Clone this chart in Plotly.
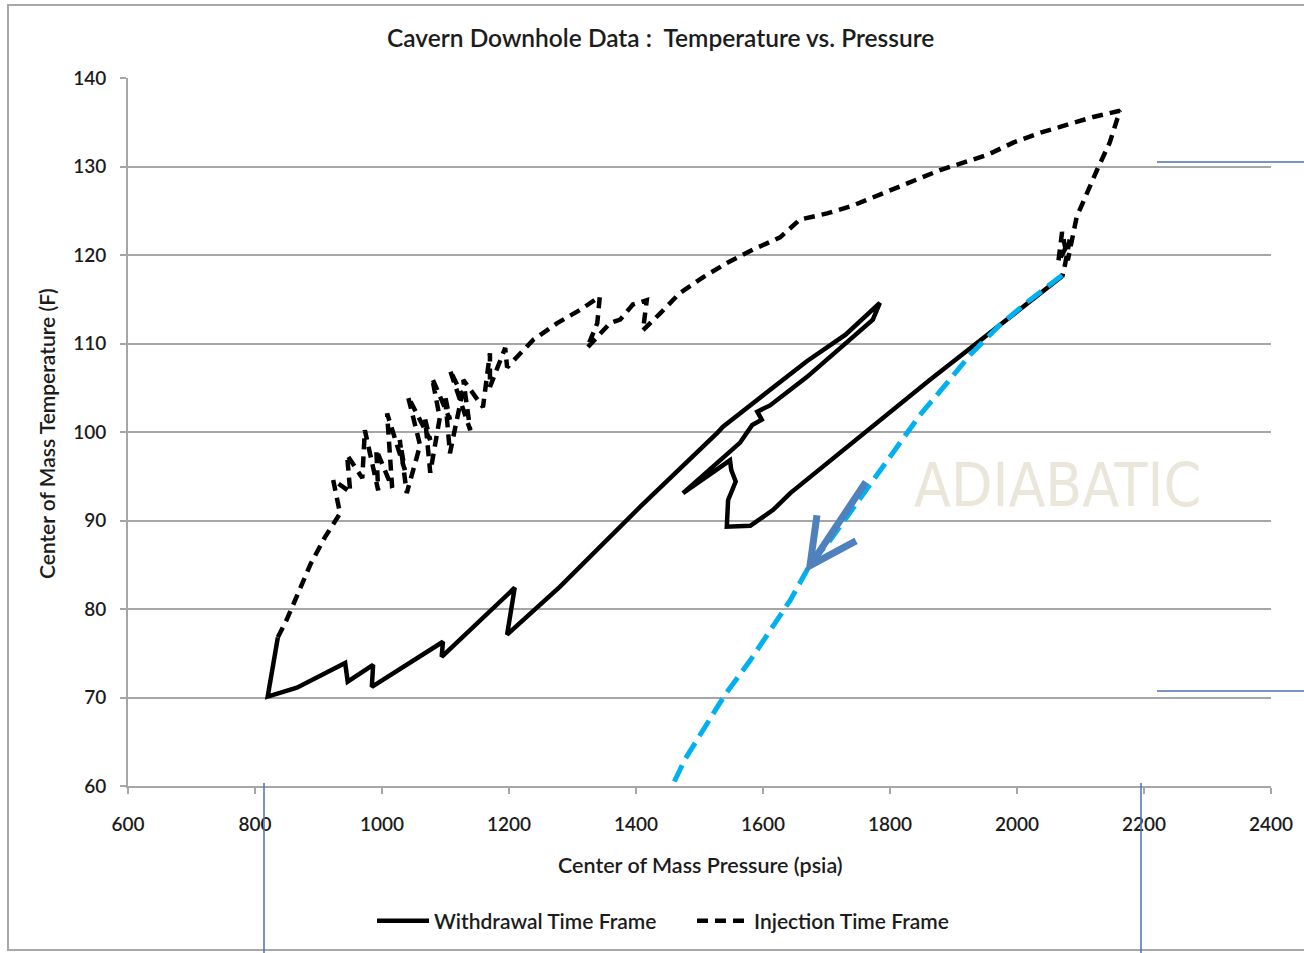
import plotly.graph_objects as go

# Withdrawal period: center-of-mass pressure (psia) vs temperature (F)
withdrawal_p = [2071, 1863, 1643, 1616, 1580, 1543, 1545, 1557, 1550, 1548,
                1474, 1564, 1583, 1598, 1591, 1611, 1669, 1773, 1784,
                1730, 1669, 1595, 1537, 1528, 1406, 1280, 1197,
                1209, 1094, 1096, 984, 986, 946, 942, 866, 820, 836]
withdrawal_t = [117.6, 105.9, 93.1, 91.2, 89.4, 89.3, 92.3, 94.4, 95.7, 96.8,
                93.1, 98.8, 100.8, 101.4, 102.3, 103.0, 106.2, 112.7, 114.6,
                111.0, 108.0, 103.8, 100.6, 99.9, 91.5, 82.5, 77.1,
                82.4, 74.6, 76.3, 71.2, 73.7, 71.8, 73.9, 71.1, 70.1, 76.8]

# Injection period
injection_p = [836, 850, 868, 887, 910, 934, 923, 950, 945, 969, 973, 994, 991,
               1016, 1008, 1036, 1028, 1039, 1060, 1041, 1076, 1068, 1076, 1091,
               1079, 1107, 1099, 1107, 1126, 1107, 1139, 1128, 1159, 1170, 1170,
               1194, 1197, 1213, 1238, 1276, 1312, 1343, 1339, 1323, 1359, 1375,
               1395, 1417, 1411, 1438, 1469, 1506, 1543, 1584, 1627, 1658, 1701,
               1742, 1784, 1879, 1953, 1994, 2036, 2079, 2120, 2162, 2146, 2126,
               2094, 2080, 2071, 2065, 2083, 2074, 2071]
injection_t = [76.8, 78.8, 81.8, 85.0, 88.1, 90.8, 94.6, 93.2, 97.4, 94.8, 100.2,
               93.4, 98.0, 93.7, 102.1, 95.7, 99.1, 93.1, 98.5, 104.0, 99.1,
               101.4, 95.4, 101.6, 106.1, 101.4, 104.2, 97.6, 104.2, 107.0, 100.2,
               105.9, 102.8, 108.9, 105.1, 109.5, 107.3, 108.5, 110.4, 112.3,
               113.8, 115.3, 112.3, 109.5, 112.3, 112.7, 114.4, 114.9, 111.5,
               113.4, 115.7, 117.5, 119.1, 120.6, 122.0, 124.0, 124.7, 125.6,
               126.8, 129.6, 131.3, 132.7, 133.8, 134.7, 135.6, 136.3, 132.7,
               129.6, 124.3, 119.4, 122.6, 119.2, 121.7, 118.3, 117.5]

# Adiabatic expansion path from the end of injection
adiabatic_p = [2071, 2020, 1973, 1926, 1887, 1847, 1808, 1769, 1734, 1706,
               1674, 1643, 1611, 1580, 1540, 1501, 1477, 1457, 1452]
adiabatic_t = [117.7, 114.9, 112.1, 108.7, 105.3, 101.9, 98.0, 94.0, 90.6, 87.8,
               85.0, 81.0, 77.6, 74.2, 70.3, 65.8, 63.0, 60.0, 59.3]

# Direction arrow along the adiabatic path: tail, tip, and the two head arms
arrow_tail = (1762, 94.35)
arrow_tip = (1674, 84.9)
arrow_arm1 = (1685, 90.6)
arrow_arm2 = (1746.5, 87.7)

x_ticks = list(range(600, 2401, 200))
y_ticks = list(range(60, 141, 10))

FONT = "Lato, 'Open Sans', sans-serif"
TEXT = "#1c1c1c"
GRID = "#a6a6a6"

fig = go.Figure()

fig.add_trace(go.Scatter(
    x=withdrawal_p, y=withdrawal_t, mode="lines",
    name="Withdrawal Time Frame",
    line=dict(color="black", width=4.5),
))
fig.add_trace(go.Scatter(
    x=injection_p, y=injection_t, mode="lines",
    name="Injection Time Frame",
    line=dict(color="black", width=4.5, dash="11px,7px"),
))
fig.add_trace(go.Scatter(
    x=adiabatic_p, y=adiabatic_t, mode="lines",
    name="Adiabatic", showlegend=False, cliponaxis=True,
    line=dict(color="#00B0F0", width=5, dash="18px,8px"),
))

W, H = 1304, 953
L, R, T, B = 128, 33, 78, 167
pw, ph = W - L - R, H - T - B


def px(x):
    return (x - L) / pw


def py(y):
    return (H - B - y) / ph


shapes = [
    # outer chart border
    dict(type="rect", xref="paper", yref="paper",
         x0=px(8), x1=px(1330), y0=py(950), y1=py(5),
         line=dict(color="#a8a8a8", width=2), layer="below"),
    # thin blue guide lines
    dict(type="line", xref="paper", yref="paper", x0=px(264), x1=px(264),
         y0=py(783), y1=py(960), line=dict(color="#4a72b8", width=1.5)),
    dict(type="line", xref="paper", yref="paper", x0=px(1141), x1=px(1141),
         y0=py(783), y1=py(960), line=dict(color="#4a72b8", width=1.5)),
    dict(type="line", xref="paper", yref="paper", x0=px(1157), x1=px(1310),
         y0=py(162), y1=py(162), line=dict(color="#4a72b8", width=1.5)),
    dict(type="line", xref="paper", yref="paper", x0=px(1157), x1=px(1310),
         y0=py(691), y1=py(691), line=dict(color="#4a72b8", width=1.5)),
    # arrow along the adiabatic path
    dict(type="path", xref="x", yref="y", layer="above",
         path=(f"M {arrow_tail[0]},{arrow_tail[1]} L {arrow_tip[0]},{arrow_tip[1]} "
               f"M {arrow_arm1[0]},{arrow_arm1[1]} L {arrow_tip[0]},{arrow_tip[1]} "
               f"L {arrow_arm2[0]},{arrow_arm2[1]}"),
         line=dict(color="#4F81BD", width=7)),
]

annotations = [
    dict(text="Cavern Downhole Data :  Temperature vs. Pressure",
         xref="paper", yref="paper", x=px(660), y=py(37),
         xanchor="center", yanchor="middle",
         showarrow=False, font=dict(family=FONT, size=24.5, color=TEXT, weight=600)),
    dict(text="Center of Mass Pressure (psia)",
         xref="paper", yref="paper", x=px(700), y=py(865),
         xanchor="center", yanchor="middle",
         showarrow=False, font=dict(family=FONT, size=21.5, color=TEXT, weight=600)),
    dict(text="Center of Mass Temperature (F)", textangle=-90,
         xref="paper", yref="paper", x=px(47), y=py(434),
         xanchor="center", yanchor="middle",
         showarrow=False, font=dict(family=FONT, size=21, color=TEXT, weight=600)),
    dict(text="ADIABATIC", xref="x", yref="y", x=2063, y=94.0,
         showarrow=False,
         font=dict(family="'Liberation Sans Narrow', 'DejaVu Sans Condensed', sans-serif",
                   size=60, color="#EAE7DA")),
]

fig.update_layout(
    width=W, height=H,
    margin=dict(l=L, r=R, t=T, b=B, pad=0),
    paper_bgcolor="white", plot_bgcolor="white",
    font=dict(family=FONT, color=TEXT),
    showlegend=True,
    legend=dict(orientation="h", x=px(372), y=py(921), xanchor="left", yanchor="middle",
                itemwidth=52, entrywidth=253, entrywidthmode="pixels",
                font=dict(family=FONT, size=21, color=TEXT, weight=600),
                bgcolor="rgba(0,0,0,0)", tracegroupgap=0),
    shapes=shapes, annotations=annotations,
    xaxis=dict(range=[600, 2400], tickvals=x_ticks, ticktext=[str(v) for v in x_ticks],
               showgrid=False, zeroline=False, showline=True, linecolor=GRID, linewidth=2,
               ticks="outside", ticklen=6, tickwidth=2, tickcolor=GRID,
               ticklabelstandoff=14,
               tickfont=dict(family=FONT, size=19, color=TEXT, weight=600)),
    yaxis=dict(range=[60, 140], tickvals=y_ticks, ticktext=[str(v) for v in y_ticks],
               showgrid=True, gridcolor=GRID, gridwidth=2, zeroline=False,
               showline=True, linecolor=GRID, linewidth=2,
               ticks="outside", ticklen=6, tickwidth=2, tickcolor=GRID,
               ticklabelstandoff=10,
               tickfont=dict(family=FONT, size=19, color=TEXT, weight=600)),
)

fig.write_html("out.html")
